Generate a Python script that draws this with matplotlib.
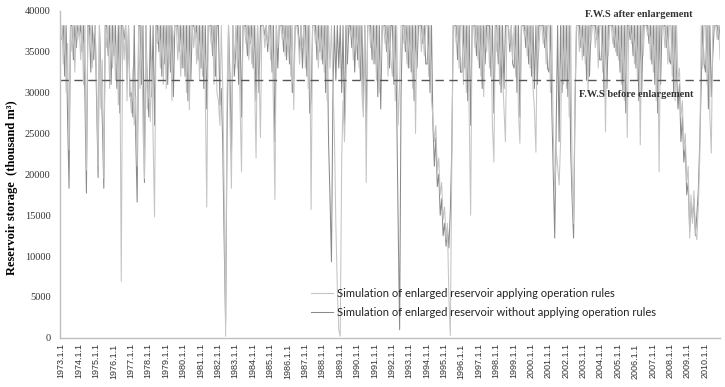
import numpy as np
import pandas as pd
import matplotlib
matplotlib.use("Agg")
import matplotlib.pyplot as plt

# monthly storage (thousand m3 / 1000), one row per year, Jan..Dec
years = list(range(1973, 2011))

with_rules = [
    [38.2, 33.5, 38.2, 30.0, 36.0, 23.0, 38.2, 35.0, 38.2, 32.5, 38.2, 36.5],  # 1973
    [38.2, 34.0, 38.2, 31.0, 38.2, 20.5, 38.2, 36.0, 38.2, 33.0, 37.0, 38.2],
    [31.5, 21.0, 38.2, 28.0, 34.0, 19.5, 38.2, 35.5, 38.2, 30.5, 38.2, 33.0],
    [38.2, 31.5, 36.0, 28.5, 38.2, 6.9, 38.2, 34.0, 38.2, 29.0, 38.2, 30.0],
    [27.5, 33.0, 26.0, 29.5, 21.0, 38.2, 30.5, 38.2, 25.5, 19.5, 38.2, 28.0],
    [31.5, 26.5, 34.0, 24.5, 14.8, 38.2, 36.0, 38.2, 33.0, 38.2, 31.0, 38.2],
    [30.5, 38.2, 33.5, 38.2, 29.0, 36.5, 38.2, 38.2, 34.0, 38.2, 32.0, 38.2],
    [33.0, 38.2, 30.0, 38.2, 27.9, 38.2, 38.2, 35.5, 38.2, 33.5, 38.2, 31.5],
    [38.2, 32.0, 38.2, 29.5, 16.0, 38.2, 38.2, 36.0, 38.2, 31.0, 38.2, 30.0],
    [29.0, 26.0, 38.2, 31.0, 18.0, 0.2, 30.0, 38.2, 27.0, 18.3, 38.2, 33.5],
    [38.2, 33.0, 38.2, 28.5, 20.3, 38.2, 38.2, 36.0, 38.2, 34.0, 38.2, 33.5],
    [38.2, 31.0, 22.0, 38.2, 33.5, 24.5, 38.2, 38.2, 35.5, 38.2, 36.0, 38.2],
    [34.0, 38.2, 28.0, 16.9, 38.2, 35.5, 38.2, 38.2, 36.5, 38.2, 34.5, 38.2],
    [35.0, 38.2, 32.0, 38.2, 27.9, 38.2, 38.2, 37.0, 33.5, 38.2, 35.5, 38.2],
    [33.0, 38.2, 30.5, 38.2, 15.7, 38.2, 38.2, 36.0, 38.2, 33.0, 38.2, 34.0],
    [38.2, 32.5, 38.2, 29.0, 38.2, 33.0, 38.2, 31.0, 25.0, 14.0, 6.0, 1.0],
    [0.2, 22.0, 29.0, 24.0, 31.0, 38.2, 38.2, 37.0, 38.2, 34.0, 38.2, 35.0],
    [38.2, 33.0, 38.2, 30.0, 27.0, 38.2, 19.0, 38.2, 38.2, 35.5, 38.2, 33.5],
    [38.2, 31.5, 38.2, 30.0, 33.5, 38.2, 38.2, 36.0, 38.2, 32.0, 38.2, 34.0],
    [32.0, 38.2, 29.0, 38.2, 26.0, 31.0, 38.2, 38.2, 36.0, 38.2, 33.5, 38.2],
    [33.0, 38.2, 30.5, 38.2, 25.0, 38.2, 38.2, 38.2, 35.0, 38.2, 34.5, 38.2],
    [38.2, 32.0, 38.2, 29.0, 27.0, 24.0, 26.0, 20.5, 22.0, 17.5, 19.0, 14.5],
    [16.0, 12.0, 14.0, 5.0, 0.3, 21.0, 38.2, 38.2, 36.0, 38.2, 33.0, 38.2],
    [38.2, 31.0, 38.2, 30.0, 38.2, 27.0, 15.0, 38.2, 38.2, 35.5, 38.2, 34.0],
    [38.2, 32.0, 38.2, 29.5, 38.2, 35.0, 38.2, 33.0, 38.2, 26.0, 21.5, 38.2],
    [35.0, 38.2, 31.0, 38.2, 32.5, 28.0, 24.0, 38.2, 38.2, 36.0, 38.2, 34.0],
    [38.2, 32.0, 38.2, 27.5, 23.8, 38.2, 38.2, 37.0, 38.2, 34.5, 38.2, 33.0],
    [38.2, 30.5, 28.0, 22.7, 38.2, 35.0, 38.2, 38.2, 36.0, 38.2, 33.5, 38.2],
    [38.2, 30.0, 38.2, 25.0, 18.0, 23.0, 21.0, 18.7, 24.0, 38.2, 31.0, 38.2],
    [30.5, 38.2, 27.0, 38.2, 20.0, 14.0, 30.0, 38.2, 38.2, 35.0, 38.2, 34.0],
    [38.2, 33.5, 38.2, 30.0, 38.2, 36.0, 38.2, 38.2, 35.5, 38.2, 33.0, 38.2],
    [38.2, 32.5, 38.2, 25.2, 38.2, 34.5, 38.2, 38.2, 36.0, 38.2, 35.0, 38.2],
    [34.0, 38.2, 31.0, 38.2, 29.0, 38.2, 24.5, 38.2, 38.2, 36.0, 38.2, 33.5],
    [38.2, 31.5, 38.2, 23.6, 38.2, 34.5, 38.2, 38.2, 37.0, 38.2, 34.0, 38.2],
    [32.5, 38.2, 29.0, 38.2, 20.3, 38.2, 38.2, 38.2, 35.5, 38.2, 33.5, 38.2],
    [38.2, 32.0, 38.2, 29.0, 38.2, 31.5, 33.0, 27.0, 29.0, 23.0, 25.0, 19.0],
    [21.0, 12.2, 17.5, 14.0, 18.0, 13.0, 12.0, 16.0, 22.0, 38.2, 33.0, 38.2],
    [38.2, 31.0, 38.2, 27.0, 22.6, 38.2, 38.2, 38.2, 36.5, 38.2, 34.0, 38.2],  # 2010
]

without_rules = [
    [36.5, 38.2, 32.0, 38.2, 27.0, 18.3, 38.2, 38.2, 34.0, 38.2, 35.5, 38.2],  # 1973
    [37.0, 38.2, 35.0, 38.2, 29.5, 17.7, 38.2, 38.2, 32.5, 38.2, 34.0, 38.2],
    [29.0, 19.6, 38.2, 32.5, 26.5, 18.3, 38.2, 38.2, 34.5, 38.2, 31.0, 38.2],
    [34.5, 38.2, 30.5, 38.2, 27.5, 38.2, 38.2, 36.5, 38.2, 31.5, 38.2, 29.5],
    [30.0, 27.0, 38.2, 24.5, 16.6, 38.2, 38.2, 31.0, 38.2, 19.0, 38.2, 30.5],
    [27.0, 38.2, 29.5, 38.2, 26.0, 38.2, 38.2, 35.0, 38.2, 32.0, 38.2, 33.5],
    [38.2, 31.0, 38.2, 32.5, 38.2, 29.5, 38.2, 38.2, 38.2, 35.0, 38.2, 33.0],
    [38.2, 32.0, 38.2, 29.0, 38.2, 31.5, 38.2, 38.2, 37.0, 38.2, 34.0, 38.2],
    [33.0, 38.2, 30.5, 38.2, 28.0, 38.2, 38.2, 38.2, 34.5, 38.2, 32.0, 38.2],
    [38.2, 28.5, 30.5, 24.0, 12.0, 1.8, 24.0, 38.2, 32.0, 22.0, 38.2, 32.0],
    [35.0, 38.2, 31.0, 38.2, 27.0, 38.2, 38.2, 38.2, 34.5, 38.2, 36.0, 38.2],
    [33.0, 38.2, 29.0, 38.2, 30.0, 38.2, 38.2, 38.2, 37.0, 38.2, 35.0, 38.2],
    [38.2, 32.5, 38.2, 24.0, 38.2, 33.0, 38.2, 38.2, 38.2, 35.0, 38.2, 34.0],
    [38.2, 33.5, 38.2, 30.0, 31.5, 38.2, 38.2, 38.2, 35.0, 38.2, 33.0, 38.2],
    [38.2, 32.0, 38.2, 27.5, 29.0, 38.2, 38.2, 38.2, 34.0, 38.2, 35.0, 38.2],
    [33.5, 38.2, 30.0, 38.2, 24.0, 17.0, 9.3, 30.0, 38.2, 31.5, 38.2, 33.0],
    [38.2, 30.0, 38.2, 26.0, 38.2, 33.5, 38.2, 38.2, 35.5, 38.2, 32.5, 38.2],
    [34.0, 38.2, 31.5, 38.2, 28.5, 38.2, 26.0, 38.2, 38.2, 38.2, 34.0, 38.2],
    [33.5, 38.2, 29.5, 38.2, 28.0, 38.2, 38.2, 38.2, 35.0, 38.2, 33.0, 38.2],
    [38.2, 31.0, 38.2, 28.0, 14.0, 1.0, 30.0, 38.2, 38.2, 35.0, 38.2, 33.0],
    [38.2, 32.5, 38.2, 29.0, 38.2, 33.0, 38.2, 38.2, 38.2, 36.0, 38.2, 33.5],
    [33.5, 38.2, 30.0, 38.2, 26.0, 21.0, 24.5, 18.5, 20.0, 15.0, 17.0, 12.5],
    [14.0, 11.2, 13.5, 11.0, 15.5, 23.0, 38.2, 38.2, 38.2, 34.0, 38.2, 32.5],
    [32.5, 38.2, 33.0, 38.2, 29.0, 38.2, 26.0, 38.2, 38.2, 38.2, 34.5, 38.2],
    [33.0, 38.2, 30.5, 38.2, 33.5, 38.2, 38.2, 38.2, 32.0, 38.2, 27.5, 38.2],
    [38.2, 33.5, 38.2, 30.0, 38.2, 30.5, 38.2, 38.2, 38.2, 35.0, 38.2, 33.5],
    [33.0, 38.2, 30.0, 38.2, 27.0, 38.2, 38.2, 38.2, 35.5, 38.2, 33.5, 38.2],
    [32.0, 38.2, 30.5, 38.2, 31.0, 38.2, 38.2, 38.2, 38.2, 35.5, 38.2, 33.0],
    [32.5, 38.2, 28.0, 20.0, 12.2, 26.0, 38.2, 24.0, 38.2, 30.0, 38.2, 31.5],
    [38.2, 29.5, 38.2, 23.0, 17.0, 12.2, 28.0, 38.2, 38.2, 38.2, 35.5, 38.2],
    [34.5, 38.2, 31.5, 38.2, 32.0, 38.2, 38.2, 38.2, 38.2, 36.5, 38.2, 34.0],
    [34.0, 38.2, 29.5, 38.2, 30.5, 38.2, 38.2, 38.2, 38.2, 35.5, 38.2, 34.5],
    [38.2, 32.5, 38.2, 30.0, 38.2, 27.5, 38.2, 38.2, 36.5, 38.2, 34.5, 38.2],
    [33.0, 38.2, 29.0, 38.2, 30.0, 38.2, 38.2, 38.2, 38.2, 36.0, 38.2, 33.5],
    [38.2, 31.0, 38.2, 27.5, 38.2, 31.0, 38.2, 38.2, 38.2, 35.5, 38.2, 34.0],
    [33.5, 38.2, 30.0, 38.2, 32.5, 28.0, 31.0, 24.0, 27.0, 21.5, 23.5, 17.5],
    [19.0, 13.0, 16.5, 14.5, 17.0, 12.5, 15.0, 18.0, 24.0, 31.0, 38.2, 33.5],
    [32.5, 38.2, 28.0, 38.2, 29.5, 34.5, 38.2, 38.2, 38.2, 36.5, 38.2, 34.0],  # 2010
]

fws_before = 31500
label_rules = "Simulation of enlarged reservoir applying operation rules"
label_norules = "Simulation of enlarged reservoir without applying operation rules"

dates = pd.date_range("1973-01-01", periods=12 * len(years), freq="MS") + pd.Timedelta(days=14)
s_rules = np.ravel(with_rules) * 1000
s_norules = np.ravel(without_rules) * 1000

fig = plt.figure(figsize=(7.25, 3.87), dpi=100)
ax = fig.add_axes([0.083, 0.127, 0.910, 0.845])

l2, = ax.plot(dates, s_norules, color="#8a8a8a", lw=0.75, label=label_norules)
l1, = ax.plot(dates, s_rules, color="#c4c4c4", lw=0.75, label=label_rules)
ax.axhline(fws_before, color="#555555", lw=1.0, ls=(0, (6, 4)))

ax.set_ylim(0, 40000)
ax.set_yticks(range(0, 40001, 5000))
ax.set_xlim(pd.Timestamp("1972-12-11"), pd.Timestamp("2010-11-12"))
ticks = [pd.Timestamp(f"{y}-01-01") for y in years]
ax.set_xticks(ticks)
ax.set_xticklabels([f"{y}.1.1" for y in years], rotation=90,
                   fontsize=6.5, family="Liberation Sans", color="#333333")
for t in ax.get_yticklabels():
    t.set_family("Liberation Serif")
    t.set_fontsize(7.5)
    t.set_color("#333333")
ax.tick_params(axis="both", length=0)
ax.tick_params(axis="y", pad=7)
ax.tick_params(axis="x", pad=4)

for s in ["top", "right"]:
    ax.spines[s].set_visible(False)
for s in ["left", "bottom"]:
    ax.spines[s].set_color("#bfbfbf")
    ax.spines[s].set_linewidth(1.0)

ax.set_ylabel("Reservoir storage  (thousand m³)", family="Liberation Serif",
              fontweight="bold", fontsize=9)
ax.yaxis.set_label_coords(-0.064, 0.46)

ax.text(0.877, 0.988, "F.W.S after enlargement", transform=ax.transAxes,
        ha="center", va="center", family="Liberation Serif", fontweight="bold",
        fontsize=7.5, color="#333333")
ax.text(0.873, 0.743, "F.W.S before enlargement", transform=ax.transAxes,
        ha="center", va="center", family="Liberation Serif", fontweight="bold",
        fontsize=7.5, color="#333333")

leg = ax.legend(handles=[l1, l2], loc="lower left", bbox_to_anchor=(0.365, 0.03),
                frameon=False, handlelength=2.0, handletextpad=0.3,
                labelspacing=0.75, prop={"family": "Lato", "size": 8})
for t in leg.get_texts():
    t.set_color("#222222")

fig.savefig("out.png", dpi=100)
